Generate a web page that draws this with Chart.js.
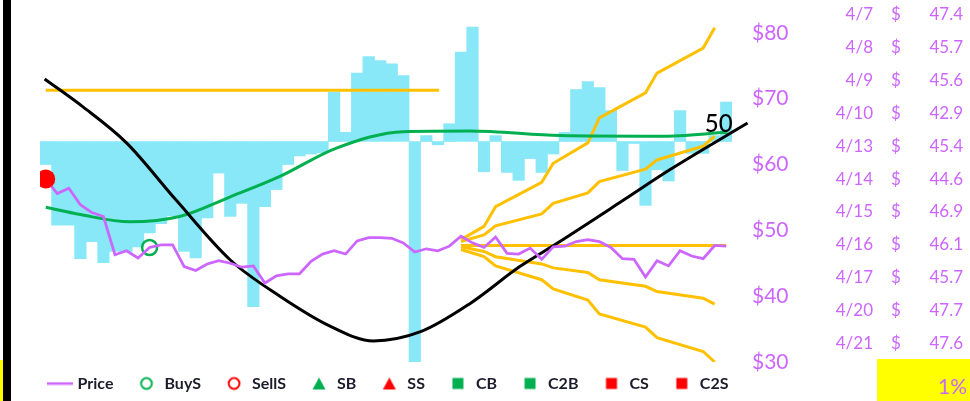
<!DOCTYPE html>
<html>
<head>
<meta charset="utf-8">
<script src="https://cdn.jsdelivr.net/npm/chart.js@4.4.1/dist/chart.umd.min.js"></script>
<style>
  html, body { margin: 0; padding: 0; background: #fff; }
  #sheet { position: relative; width: 970px; height: 401px; overflow: hidden; font-family: Lato, 'Open Sans', sans-serif; }
  #chart { position: absolute; left: 0; top: 0; }
  .edge { position: absolute; left: 3px; top: 0; width: 8px; height: 401px; background: #000; }
  .edge-cell { position: absolute; left: 0; top: 360px; width: 3px; height: 41px; background: #ff0; }
  .row { position: absolute; left: 800px; width: 170px; height: 33px; line-height: 33px; color: #cc66ff; font-size: 17px; }
  .row .d { position: absolute; right: 97px; }
  .row .s { position: absolute; left: 91px; }
  .row .v { position: absolute; right: 7px; }
  .pct { position: absolute; left: 877px; top: 359px; width: 93px; height: 42px; box-sizing: border-box;
         padding: 12px 3px 0 0; line-height: 30px; background: #ff0; color: #cc66ff; font-size: 21px; text-align: right; }
</style>
</head>
<body>
<div id="sheet">
  <canvas id="chart" width="889" height="411"></canvas>
  <div class="edge"></div>
  <div class="edge-cell"></div>
  <div id="table"></div>
  <div class="pct" id="pct"></div>
</div>
<script>
// trading days on the category axis
const LABELS = ['1/28','1/29','1/30','2/2','2/3','2/4','2/5','2/6','2/9','2/10',
  '2/11','2/12','2/13','2/16','2/17','2/18','2/19','2/20','2/23','2/24',
  '2/25','2/26','2/27','3/2','3/3','3/4','3/5','3/6','3/9','3/10',
  '3/11','3/12','3/13','3/16','3/17','3/18','3/19','3/20','3/23','3/24',
  '3/25','3/26','3/27','3/30','3/31','4/1','4/2','4/3','4/6','4/7',
  '4/8','4/9','4/10','4/13','4/14','4/15','4/16','4/17','4/20','4/21'];

const PRICE = [57.8, 55.6, 56.4, 53.9, 52.7, 52.1, 46.3, 46.9, 45.8, 47.4,
  47.8, 47.8, 44.5, 43.9, 44.9, 45.4, 45.0, 44.4, 44.6, 42.0,
  43.1, 43.4, 43.4, 45.3, 46.4, 46.9, 46.4, 48.4, 48.9, 48.9,
  48.8, 48.1, 46.7, 47.2, 46.9, 47.6, 49.1, 48.1, 47.4, 49.0,
  46.5, 46.4, 47.3, 45.6, 47.5, 47.6, 48.3, 48.6, 48.3, 47.4,
  45.7, 45.6, 42.9, 45.4, 44.6, 46.9, 46.1, 45.7, 47.7, 47.6];

// oscillator bars (own hidden axis, zero line sits at $63.5)
const MOMENTUM = [-3.5, -12.7, -12.7, -17.8, -15.2, -18.4, -16.7, -16.7, -16.0, -13.9,
  -12.5, -11.3, -16.7, -17.7, -11.6, -4.8, -11.4, -9.4, -25.1, -9.9,
  -7.3, -3.5, -2.2, -1.9, -1.7, 7.5, 1.4, 10.4, 12.9, 12.3,
  11.8, 10.0, -34.0, 0.9, -0.5, 2.7, 13.6, 17.4, -4.6, 0.9,
  -4.7, -5.9, -2.6, -4.7, -1.9, 1.4, 7.9, 9.1, 8.2, 4.7,
  -4.4, -0.3, -9.7, -4.3, -6.0, 4.7, -1.8, -1.8, 0.9, 6.0];
const MOMENTUM_RANGE = [-33.5, 21.5];

const Y_RANGE = [30, 85];
const Y_TICKS = [30, 40, 50, 60, 70, 80];

// smooth trend (green) and cycle (black), x = day index
const TREND = [{x: 0, y: 53.5}, {x: 3, y: 52.4}, {x: 7.3, y: 51.3}, {x: 11.6, y: 52.1},
  {x: 16, y: 55.1}, {x: 20.3, y: 58.2}, {x: 25.2, y: 62.5}, {x: 31, y: 65.0},
  {x: 36.8, y: 65.1}, {x: 44.6, y: 64.4}, {x: 53.3, y: 64.3}, {x: 59.1, y: 64.9}];
const CYCLE = [{x: -0.1, y: 73.0}, {x: 3.2, y: 68.8}, {x: 7.0, y: 63.3}, {x: 11.3, y: 54.6},
  {x: 16.0, y: 45.5}, {x: 20.3, y: 40.0}, {x: 24.6, y: 35.5}, {x: 28.4, y: 33.2},
  {x: 32.5, y: 34.6}, {x: 36.8, y: 38.9}, {x: 41.1, y: 44.5}, {x: 44.3, y: 48.0},
  {x: 50.1, y: 54.6}, {x: 54.1, y: 59.2}, {x: 60.85, y: 66.3}];
const CYCLE_LABEL = '50';

// projection lines (orange)
const TARGET = [{x: 0, y: 71.3}, {x: 34.1, y: 71.3}];
const FAN_HIGH = [{x: 36, y: 48.6}, {x: 38, y: 50.6}, {x: 39, y: 53.6}, {x: 43, y: 57.3}, {x: 44, y: 60.2},
  {x: 47, y: 63.3}, {x: 48, y: 67.1}, {x: 52, y: 70.9}, {x: 53, y: 73.9}, {x: 57, y: 77.7}, {x: 58, y: 80.8}];
const FAN_UP = [{x: 36, y: 48.3}, {x: 38, y: 49.3}, {x: 39, y: 50.7}, {x: 43, y: 52.5}, {x: 44, y: 54.1},
  {x: 47, y: 55.7}, {x: 48, y: 57.4}, {x: 52, y: 59.3}, {x: 53, y: 60.7}, {x: 57, y: 62.8}, {x: 58, y: 64.3}];
const FAN_FLAT = [{x: 36, y: 47.7}, {x: 59, y: 47.7}];
const FAN_DOWN = [{x: 36, y: 47.5}, {x: 38, y: 46.8}, {x: 39, y: 46.0}, {x: 43, y: 44.9}, {x: 44, y: 44.3},
  {x: 47, y: 43.6}, {x: 48, y: 42.5}, {x: 52, y: 41.5}, {x: 53, y: 40.7}, {x: 57, y: 39.7}, {x: 58, y: 38.8}];
const FAN_LOW = [{x: 36, y: 47.1}, {x: 38, y: 46.0}, {x: 39, y: 44.6}, {x: 43, y: 42.5}, {x: 44, y: 41.1},
  {x: 47, y: 39.4}, {x: 48, y: 37.3}, {x: 52, y: 35.3}, {x: 53, y: 33.7}, {x: 57, y: 31.6}, {x: 58, y: 30.0}];

// signal markers (day indexes)
const SIGNAL_AT = [0];
const BUY_AT = [9];

const LEGEND_ITEMS = ['Price', 'BuyS', 'SellS', 'SB', 'SS', 'CB', 'C2B', 'CS', 'C2S'];
const TABLE_ROWS = 11;
const PCT_TEXT = '1%';

const PURPLE = '#cc66ff', CYAN = '#88e8f8', GREEN = '#00b050', RED = '#ff0000', ORANGE = '#ffc000';

const onPrice = idx => idx.map(i => ({x: i, y: PRICE[i]}));

function legendIcon(ds) {
  const c = document.createElement('canvas');
  const g = c.getContext('2d');
  if (ds.showLine !== false) {
    c.width = 26; c.height = 4;
    g.strokeStyle = ds.borderColor; g.lineWidth = 2.5;
    g.beginPath(); g.moveTo(0, 2); g.lineTo(26, 2); g.stroke();
    return c;
  }
  c.width = 16; c.height = 16;
  g.fillStyle = ds.borderColor; g.strokeStyle = ds.borderColor;
  if (ds.pointStyle === 'circle') {
    g.lineWidth = 2; g.beginPath(); g.arc(8, 8, 5.4, 0, Math.PI * 2); g.stroke();
  } else if (ds.pointStyle === 'triangle') {
    g.beginPath(); g.moveTo(8, 2); g.lineTo(14.5, 14); g.lineTo(1.5, 14); g.closePath(); g.fill();
  } else {
    g.fillRect(2.5, 2.5, 11, 11);
  }
  return c;
}

function marker(label, style, color, order, data) {
  return { type: 'line', label, data: data || [], xAxisID: 'xl', yAxisID: 'y', showLine: false,
    pointStyle: style, pointRadius: 7.5, pointBorderWidth: 2.5, borderColor: color,
    backgroundColor: style === 'circle' ? 'rgba(0,0,0,0)' : color, order };
}

function curve(label, data, color, order, extra) {
  return Object.assign({ type: 'line', label, data, xAxisID: 'xl', yAxisID: 'y',
    borderColor: color, borderWidth: 3, pointRadius: 0, order }, extra || {});
}

// legend sits a little higher and further left than Chart.js would put it
const legendNudge = {
  id: 'legendNudge',
  afterLayout(chart) {
    const lg = chart.legend;
    lg.top -= 9.5; lg.bottom -= 9.5;
    lg.left -= 11; lg.right -= 11;
  }
};

const cycleLabel = {
  id: 'cycleLabel',
  afterDatasetsDraw(chart) {
    const idx = chart.data.datasets.findIndex(d => d.label === 'Cycle');
    const pts = chart.getDatasetMeta(idx).data;
    const pt = pts[pts.length - 1];
    const ctx = chart.ctx;
    ctx.save();
    ctx.font = '500 24px Lato';
    ctx.fillStyle = '#000';
    ctx.textAlign = 'right';
    ctx.textBaseline = 'middle';
    ctx.fillText(CYCLE_LABEL, pt.x - 15, pt.y + 1);
    ctx.restore();
  }
};

new Chart(document.getElementById('chart'), {
  type: 'line',
  data: {
    labels: LABELS,
    datasets: [
      { type: 'line', label: 'Price', data: PRICE, xAxisID: 'x', yAxisID: 'y', borderColor: PURPLE,
        backgroundColor: PURPLE, borderWidth: 2.75, pointRadius: 0, tension: 0, order: 1 },
      marker('BuyS', 'circle', GREEN, 2, onPrice(BUY_AT)),
      marker('SellS', 'circle', RED, 3),
      marker('SB', 'triangle', GREEN, 4),
      marker('SS', 'triangle', RED, 5),
      marker('CB', 'rect', GREEN, 6),
      marker('C2B', 'rect', GREEN, 7),
      marker('CS', 'rect', RED, 8),
      marker('C2S', 'rect', RED, 9),
      Object.assign(marker('Signal', 'circle', RED, 0, onPrice(SIGNAL_AT)), { pointRadius: 9.5, pointBorderWidth: 0, backgroundColor: RED }),
      curve('Cycle', CYCLE, '#000', 10, { cubicInterpolationMode: 'monotone', clip: false }),
      curve('Trend', TREND, GREEN, 11, { cubicInterpolationMode: 'monotone' }),
      curve('Target', TARGET, ORANGE, 12),
      curve('FanHigh', FAN_HIGH, ORANGE, 13),
      curve('FanUp', FAN_UP, ORANGE, 14),
      curve('FanFlat', FAN_FLAT, ORANGE, 15),
      curve('FanDown', FAN_DOWN, ORANGE, 16),
      curve('FanLow', FAN_LOW, ORANGE, 17),
      { type: 'bar', label: 'Momentum', data: MOMENTUM, xAxisID: 'x', yAxisID: 'y2', backgroundColor: CYAN,
        borderWidth: 0, grouped: false, barPercentage: 1, categoryPercentage: 1, clip: 0, order: 20 }
    ]
  },
  options: {
    responsive: false,
    animation: false,
    layout: { autoPadding: false, padding: { left: 0, right: 89, top: 0, bottom: 0 } },
    scales: {
      x: { type: 'category', display: false, offset: true },
      xl: { type: 'linear', display: false, min: -0.5, max: LABELS.length - 0.5 },
      y: {
        position: 'right', min: Y_RANGE[0], max: Y_RANGE[1],
        afterBuildTicks: s => { s.ticks = Y_TICKS.map(v => ({ value: v })); },
        afterFit: s => { s.width = 68; s.paddingTop = 0; s.paddingBottom = 0; },
        ticks: { callback: v => '$' + v, color: PURPLE, font: { family: 'Lato', size: 21 }, padding: 20 },
        grid: { display: false, drawTicks: false },
        border: { display: false }
      },
      y2: {
        position: 'left', min: MOMENTUM_RANGE[0], max: MOMENTUM_RANGE[1],
        afterFit: s => { s.width = 40; s.paddingTop = 0; s.paddingBottom = 0; },
        ticks: { display: false },
        grid: { display: false, drawTicks: false },
        border: { display: false }
      }
    },
    plugins: {
      tooltip: { enabled: false },
      legend: {
        position: 'bottom',
        labels: {
          usePointStyle: true, pointStyleWidth: 20, padding: 23, color: '#1c1c2c',
          font: { family: 'Lato', size: 16, weight: 'bold' },
          generateLabels(chart) {
            return Chart.defaults.plugins.legend.labels.generateLabels(chart)
              .filter(item => LEGEND_ITEMS.includes(item.text))
              .map(item => Object.assign(item, { pointStyle: legendIcon(chart.data.datasets[item.datasetIndex]) }));
          }
        }
      }
    }
  },
  plugins: [legendNudge, cycleLabel]
});

// price table beside the chart
const table = document.getElementById('table');
LABELS.slice(-TABLE_ROWS).forEach((d, i) => {
  const p = PRICE[PRICE.length - TABLE_ROWS + i];
  const row = document.createElement('div');
  row.className = 'row';
  row.style.top = (13.3 + 32.94 * i - 16.5) + 'px';
  row.innerHTML = '<span class="d">' + d + '</span><span class="s">$</span><span class="v">' + p.toFixed(1) + '</span>';
  table.appendChild(row);
});
document.getElementById('pct').textContent = PCT_TEXT;
</script>
</body>
</html>
